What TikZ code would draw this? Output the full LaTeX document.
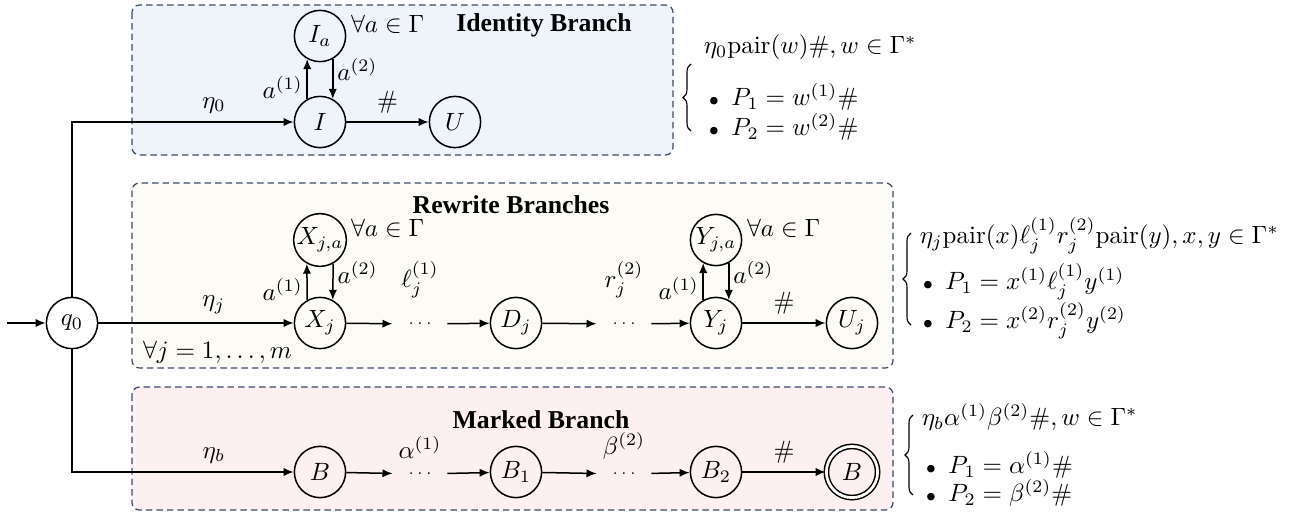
\documentclass[tikz,border=0pt]{standalone}
\usepackage{amsmath,amssymb}
\usepackage{fontspec}
\newfontfamily\titlefont{Liberation Serif}
\usetikzlibrary{automata,arrows.meta,decorations.pathreplacing}

\definecolor{idfill}{RGB}{239,244,251}
\definecolor{rwfill}{RGB}{252,251,245}
\definecolor{mkfill}{RGB}{253,240,240}
\definecolor{boxline}{RGB}{60,76,104}

\tikzset{
  branch/.style={draw=boxline, line width=0.5pt, dash pattern=on 2.6pt off 1.6pt, rounded corners=3pt},
  title/.style={font=\fontsize{10.3}{12}\selectfont\titlefont\bfseries},
  dots/.style={inner xsep=6pt, inner ysep=1pt, font=\fontsize{6}{7}\selectfont},
  spec/.style={anchor=west, inner sep=0pt},
  curly/.style={decorate, decoration={brace, amplitude=3.2pt}, line width=0.45pt},
  lab/.style={inner sep=1.5pt}
}
\newcommand{\itm}{{\scriptstyle\bullet}\enspace}

\begin{document}
\begin{tikzpicture}[x=0.4pt, y=-0.4pt, line width=0.6pt,
    >={Latex[length=4pt,width=3.3pt]},
    every state/.style={minimum size=20.5pt, inner sep=0pt, line width=0.6pt},
    accepting/.style={double, double distance=1.1pt}]
			\useasboundingbox (0,0) rectangle (1315,515);
			% branch boxes
			\draw[branch, fill=idfill] (132,5) rectangle (673,155);
			\draw[branch, fill=rwfill] (132,183) rectangle (893,368);
			\draw[branch, fill=mkfill] (132,387) rectangle (893,510);

			\node[state] (q0) at (72,323) {$q_0$};
			\coordinate (start) at (7,323);
			\draw[->] (start) -- (q0);

			% identity branch
			\node[state] (I) at (320,122) {$I$};
			\node[state] (Ia) at (320,36) {$I_a$};
			\node[state] (U) at (455,122) {$U$};
			\draw[->] (q0) |- node[pos=0.82, above] {$\eta_0$} (I);
			\draw[->] (I.119) -- node[lab, pos=0.3, left] {$a^{(1)}$} (Ia.241);
			\draw[->] (Ia.299) -- node[lab, pos=0.25, right] {$a^{(2)}$} (I.61);
			\draw[->] (I) edge node[above] {$\#$} (U);
			\node[anchor=west] (gamI) at (342,24) {$\forall a\in\Gamma$};
			\node[title] (tI) at (544,25) {Identity Branch};

			% rewrite branches
			\node[state] (Xj) at (320,323) {$X_j$};
			\node[state] (Xja) at (320,240) {$X_{j,a}$};
			\node[dots] (l1) at (420,324) {$\ldots$};
			\node[state] (Dj) at (516,323) {$D_j$};
			\node[dots] (r2) at (624,324) {$\ldots$};
			\node[state] (Yj) at (716,323) {$Y_j$};
			\node[state] (Yja) at (716,240) {$Y_{j,a}$};
			\node[state] (Uj) at (852,323) {$U_j$};
			\node (l1lab) at (420,280) {$\ell_j^{(1)}$};
			\node (r2lab) at (624,280) {$r_j^{(2)}$};
			\draw[->] (q0) -- node[pos=0.59, above] {$\eta_j$} (Xj);
			\draw[->] (Xj.119) -- node[lab, pos=0.3, left] {$a^{(1)}$} (Xja.241);
			\draw[->] (Xja.299) -- node[lab, pos=0.25, right] {$a^{(2)}$} (Xj.61);
			\draw[->] (Yj.119) -- node[lab, pos=0.3, left] {$a^{(1)}$} (Yja.241);
			\draw[->] (Yja.299) -- node[lab, pos=0.25, right] {$a^{(2)}$} (Yj.61);
			\draw[->] (Xj) edge (l1)
				(l1) edge (Dj)
				(Dj) edge (r2)
				(r2) edge (Yj)
				(Yj) edge node[above] {$\#$} (Uj);
			\node[anchor=west] (gamX) at (342,228) {$\forall a\in\Gamma$};
			\node[anchor=west] (gamY) at (738,228) {$\forall a\in\Gamma$};
			\node[anchor=west] (allj) at (134,352) {$\forall j=1,\ldots,m$};
			\node[title] (tR) at (511,205) {Rewrite Branches};

			% marked branch
			\node[state] (B) at (320,472) {$B$};
			\node[dots] (al) at (420,474) {$\ldots$};
			\node[state] (B1) at (516,472) {$B_1$};
			\node[dots] (be) at (624,474) {$\ldots$};
			\node[state] (B2) at (716,472) {$B_2$};
			\node[state, accepting] (Bf) at (852,472) {$B$};
			\node (allab) at (420,447) {$\alpha^{(1)}$};
			\node (belab) at (624,446) {$\beta^{(2)}$};
			\draw[->] (q0) |- node[pos=0.82, above] {$\eta_b$} (B);
			\draw[->] (B) edge (al)
				(al) edge (B1)
				(B1) edge (be)
				(be) edge (B2)
				(B2) edge node[above] {$\#$} (Bf);
			\node[title] (tM) at (541,420) {Marked Branch};

			% accepted words
			\draw[curly] (691,131) -- (691,64);
			\node[spec] (sI0) at (703,47) {$\eta_0\mathrm{pair}(w)\#, w\in\Gamma^*$};
			\node[spec] (sI1) at (708,97) {$\itm P_1=w^{(1)}\#$};
			\node[spec] (sI2) at (708,127) {$\itm P_2=w^{(2)}\#$};

			\draw[curly] (911,325) -- (911,233);
			\node[spec] (sR0) at (919,236) {$\eta_j\mathrm{pair}(x)\ell_j^{(1)}r_j^{(2)}\mathrm{pair}(y), x,y\in\Gamma^*$};
			\node[spec] (sR1) at (922,282) {$\itm P_1=x^{(1)}\ell_j^{(1)}y^{(1)}$};
			\node[spec] (sR2) at (922,321) {$\itm P_2=x^{(2)}r_j^{(2)}y^{(2)}$};

			\draw[curly] (913,495) -- (913,415);
			\node[spec] (sM0) at (921,417) {$\eta_b\alpha^{(1)}\beta^{(2)}\#, w\in\Gamma^*$};
			\node[spec] (sM1) at (925,465) {$\itm P_1=\alpha^{(1)}\#$};
			\node[spec] (sM2) at (925,493) {$\itm P_2=\beta^{(2)}\#$};
		\end{tikzpicture}
\end{document}
